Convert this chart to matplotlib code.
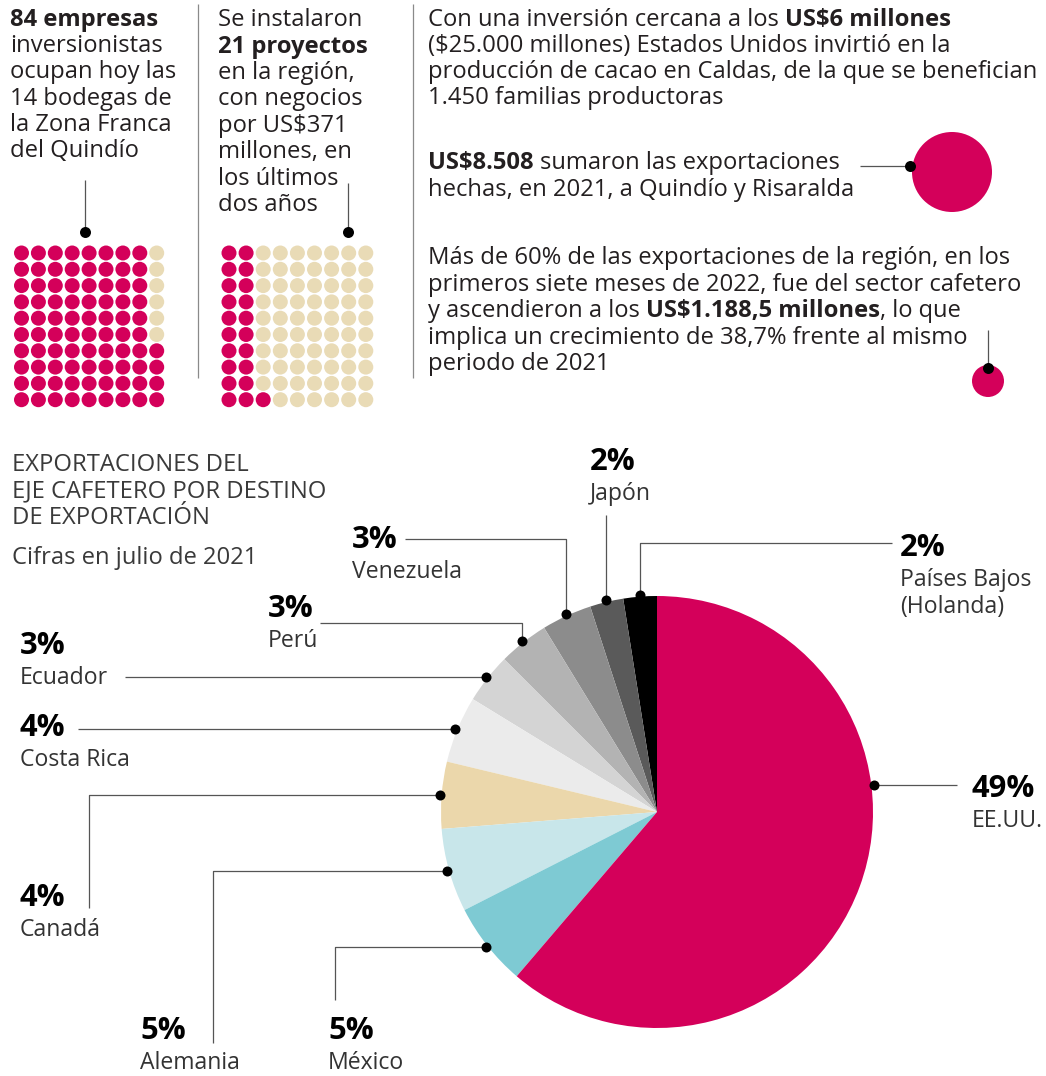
import matplotlib
matplotlib.use("Agg")
import matplotlib.pyplot as plt
from matplotlib.patches import Circle
import numpy as np

plt.rcParams['font.family'] = ['Open Sans', 'DejaVu Sans']

# =========================================
# DATA
# =========================================
empresas_total = 90
empresas_ocupadas = 84
proyectos_total = 90
proyectos_instalados = 21

paises = ["Países Bajos", "Japón", "Venezuela", "Perú", "Ecuador",
          "Costa Rica", "Canadá", "Alemania", "México", "EE.UU."]
porcentajes = [2, 2, 3, 3, 3, 4, 4, 5, 5, 49]
colores = ["#000000", "#5a5a5a", "#8c8c8c", "#b3b3b3", "#d4d4d4",
           "#ebebeb", "#ebd7ab", "#c8e6ea", "#7ecad3", "#d4005a"]

PINK = "#d4005a"
BEIGE = "#e9dbb6"
TXT = "#231f20"
LINE = "#555555"
BODY = 23.7      # px
NAME = 23
PCT = 31

# =========================================
# FIGURE (1 data unit = 1 pixel)
# =========================================
W, H = 1046, 1076
fig = plt.figure(figsize=(W / 100, H / 100), dpi=100)
ax = fig.add_axes([0, 0, 1, 1])


def Y(py):
    return H - py


renderer = fig.canvas.get_renderer()


def px(sz):
    return sz * 0.72


def text(x, y, s, size=BODY, weight="normal", color=TXT, ha="left"):
    return ax.text(x, Y(y), s, fontsize=px(size), fontweight=weight,
                   color=color, ha=ha, va="center")


def rich(x, y, parts, size=BODY, color=TXT):
    # parts: list of (text, weight); words joined with one space
    sp_a = ax.text(0, 0, "x x", fontsize=px(size))
    sp_b = ax.text(0, 0, "xx", fontsize=px(size))
    space = (sp_a.get_window_extent(renderer).width
             - sp_b.get_window_extent(renderer).width)
    sp_a.remove()
    sp_b.remove()
    for i, (s, w) in enumerate(parts):
        t = text(x, y, s, size, w, color)
        x += t.get_window_extent(renderer).width
        if i < len(parts) - 1 and not parts[i + 1][0].startswith(","):
            x += space


def dot(x, y, d=10):
    ax.scatter([x], [Y(y)], s=px(d) ** 2, color="black", zorder=5,
               linewidths=0)


def line(xs, ys, color=LINE):
    ax.plot(xs, [Y(v) for v in ys], color=color, lw=0.9, zorder=4,
            solid_capstyle="butt")


def label(x, y, pct, names):
    text(x, y, pct, PCT, "bold", "black")
    for i, n in enumerate(names):
        text(x, y + 32 + i * 27, n, NAME, color="#333333")


# =========================================
# DOT GRIDS
# =========================================
def dot_grid(x0, y0, dx, dy, total, filled):
    cols = total // 10
    xs, ys, cs = [], [], []
    for c in range(cols):
        for r in range(10):
            k = c * 10 + (9 - r)
            xs.append(x0 + c * dx)
            ys.append(Y(y0 + r * dy))
            cs.append(PINK if k < filled else BEIGE)
    ax.scatter(xs, ys, s=px(15) ** 2, c=cs, linewidths=0)


dot_grid(21.5, 253, 16.9, 16.3, empresas_total, empresas_ocupadas)
dot_grid(229, 253, 17.1, 16.3, proyectos_total, proyectos_instalados)

# separators
line([198, 198], [4, 378], "#8a8a8a")
line([413, 413], [4, 378], "#8a8a8a")

# column 1
text(10, 20, "84 empresas", weight="bold")
for i, s in enumerate(["inversionistas", "ocupan hoy las", "14 bodegas de",
                       "la Zona Franca", "del Quindío"]):
    text(10, 46 + i * 26.3, s)
line([85, 85], [180, 232])
dot(85, 232, 11)

# column 2
text(218, 20, "Se instalaron")
text(218, 47, "21 proyectos", weight="bold")
for i, s in enumerate(["en la región,", "con negocios", "por US$371",
                       "millones, en", "los últimos", "dos años"]):
    text(218, 73 + i * 26.4, s)
line([348, 348], [183, 232])
dot(348, 232, 11)

# column 3
rich(428, 20, [("Con una inversión cercana a los", "normal"),
               ("US$6 millones", "bold")])
text(428, 46, "($25.000 millones) Estados Unidos invirtió en la")
text(428, 72, "producción de cacao en Caldas, de la que se benefician")
text(428, 98, "1.450 familias productoras")

rich(428, 163, [("US$8.508", "bold"), ("sumaron las exportaciones", "normal")])
text(428, 190, "hechas, en 2021, a Quindío y Risaralda")
line([860, 910], [166, 166])
ax.add_patch(Circle((952, Y(172)), 40, color=PINK, lw=0))
dot(910, 166, 11)

text(428, 258, "Más de 60% de las exportaciones de la región, en los")
text(428, 285, "primeros siete meses de 2022, fue del sector cafetero")
rich(428, 311, [("y ascendieron a los", "normal"),
                ("US$1.188,5 millones", "bold"), (", lo que", "normal")])
text(428, 338, "implica un crecimiento de 38,7% frente al mismo")
text(428, 364, "periodo de 2021")
line([988, 988], [330, 368])
ax.add_patch(Circle((988, Y(381)), 16, color=PINK, lw=0))
dot(988, 368, 11)

# =========================================
# PIE
# =========================================
cx, cy, R = 657, 812, 216
ax.pie(porcentajes, colors=colores, startangle=90, counterclock=True,
       center=(cx, Y(cy)), radius=R, wedgeprops=dict(linewidth=0))

fr = np.array(porcentajes) / sum(porcentajes)
mids = 90 + 360 * (np.cumsum(fr) - fr / 2)
mids[-1] = 367  # EE.UU. marker sits on the right edge
dots = {}
for p, a in zip(paises, mids):
    r = R * 1.01
    dots[p] = (cx + r * np.cos(np.radians(a)), cy - r * np.sin(np.radians(a)))

# title
for i, s in enumerate(["EXPORTACIONES DEL", "EJE CAFETERO POR DESTINO",
                       "DE EXPORTACIÓN"]):
    text(12, 465 + i * 26.5, s, color="#3a3a3a")
text(12, 558, "Cifras en julio de 2021", color="#3a3a3a")

# leader lines + labels
x, y = dots["Países Bajos"]
line([x, x, 892], [y, 543, 543])
dot(x, y)
label(900, 548, "2%", ["Países Bajos", "(Holanda)"])

x, y = dots["Japón"]
line([x, x], [y, 515])
dot(x, y)
label(590, 462, "2%", ["Japón"])

x, y = dots["Venezuela"]
line([x, x, 405], [y, 539, 539])
dot(x, y)
label(352, 540, "3%", ["Venezuela"])

x, y = dots["Perú"]
line([x, x, 320], [y, 623, 623])
dot(x, y)
label(268, 609, "3%", ["Perú"])

x, y = dots["Ecuador"]
line([x, 125], [y, y])
dot(x, y)
label(20, 646, "3%", ["Ecuador"])

x, y = dots["Costa Rica"]
line([x, 78], [y, y])
dot(x, y)
label(20, 728, "4%", ["Costa Rica"])

x, y = dots["Canadá"]
line([x, 89, 89], [y, y, 908])
dot(x, y)
label(20, 898, "4%", ["Canadá"])

x, y = dots["Alemania"]
line([x, 213, 213], [y, y, 1043])
dot(x, y)
label(140, 1031, "5%", ["Alemania"])

x, y = dots["México"]
line([x, 335, 335], [y, y, 1000])
dot(x, y)
label(328, 1031, "5%", ["México"])

x, y = dots["EE.UU."]
line([x, 957], [y, y])
dot(x, y)
label(972, 789, "49%", ["EE.UU."])

ax.set_xlim(0, W)
ax.set_ylim(0, H)
ax.set_aspect("equal")
ax.axis("off")

fig.savefig("out.png", dpi=100, facecolor="white")
